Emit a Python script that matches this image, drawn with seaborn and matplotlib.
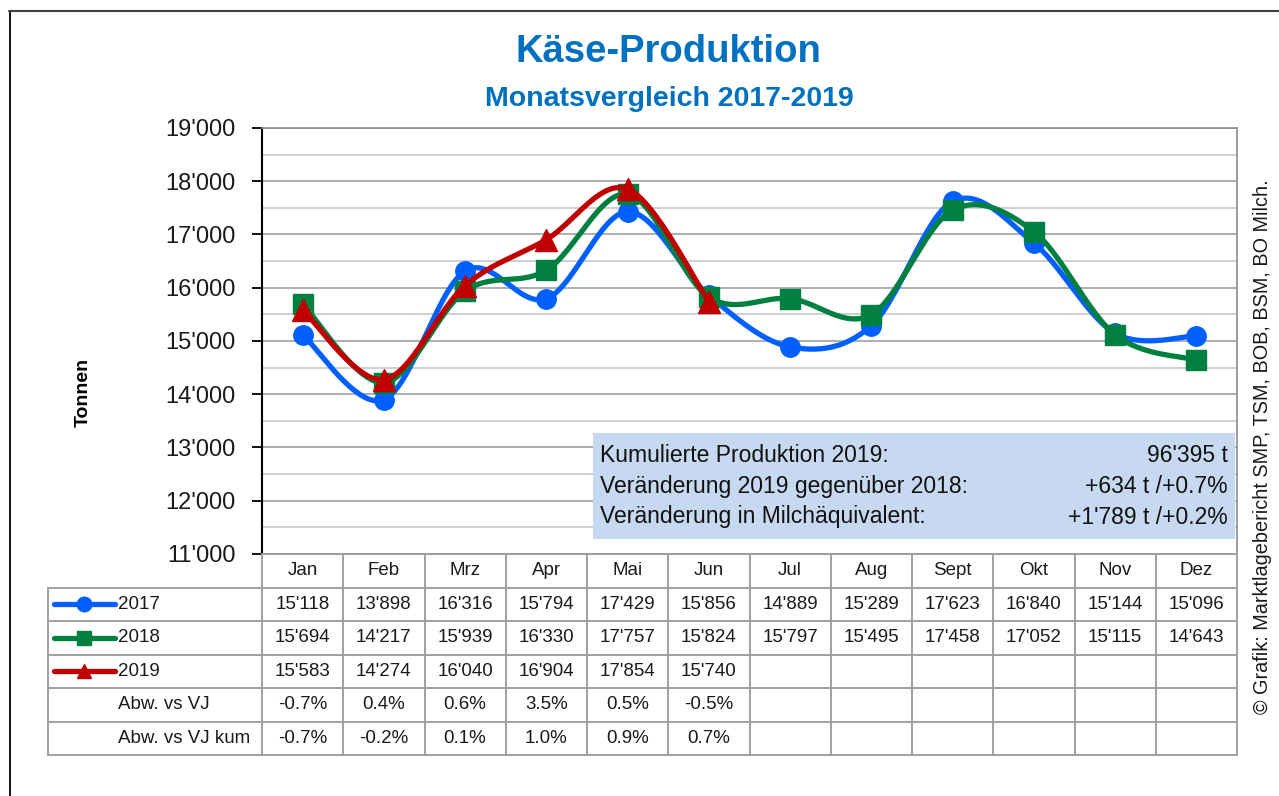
import numpy as np
import matplotlib
matplotlib.use("Agg")
import matplotlib.pyplot as plt
import seaborn as sns
from matplotlib.patches import Rectangle

# Daten
monate = ['Jan', 'Feb', 'Mrz', 'Apr', 'Mai', 'Jun', 'Jul', 'Aug', 'Sept', 'Okt', 'Nov', 'Dez']
prod_2017 = [15118, 13898, 16316, 15794, 17429, 15856, 14889, 15289, 17623, 16840, 15144, 15096]
prod_2018 = [15694, 14217, 15939, 16330, 17757, 15824, 15797, 15495, 17458, 17052, 15115, 14643]
prod_2019 = [15583, 14274, 16040, 16904, 17854, 15740]
abw_vj = [-0.7, 0.4, 0.6, 3.5, 0.5, -0.5]
abw_vj_kum = [-0.7, -0.2, 0.1, 1.0, 0.9, 0.7]
info_links = ['Kumulierte Produktion 2019:', 'Veränderung 2019 gegenüber 2018:',
              'Veränderung in Milchäquivalent:']
info_rechts = ["96'395 t", "+634 t /+0.7%", "+1'789 t /+0.2%"]

serien = [('2017', prod_2017, '#0060FF', 'o', 14),
          ('2018', prod_2018, '#008040', 's', 14),
          ('2019', prod_2019, '#C00000', '^', 16)]

sns.set_theme(style="white")
plt.rcParams['font.family'] = ['Liberation Sans', 'DejaVu Sans']

W, H = 1279, 796
fig = plt.figure(figsize=(W / 100, H / 100), dpi=100)


def fmt(v):
    return f"{v:,}".replace(",", "'")


def glatt(x, y, n=30):
    # Excel-artige Glättung (Catmull-Rom Bezier)
    x = np.asarray(x, float)
    y = np.asarray(y, float)
    px = np.concatenate([[x[0]], x, [x[-1]]])
    py = np.concatenate([[y[0]], y, [y[-1]]])
    t = np.linspace(0, 1, n)[:, None]
    xs, ys = [], []
    for i in range(1, len(x)):
        p0 = np.array([px[i], py[i]])
        p3 = np.array([px[i + 1], py[i + 1]])
        c1 = p0 + (p3 - np.array([px[i - 1], py[i - 1]])) / 6
        c2 = p3 - (np.array([px[i + 2], py[i + 2]]) - p0) / 6
        b = ((1 - t) ** 3) * p0 + 3 * ((1 - t) ** 2) * t * c1 + 3 * (1 - t) * t ** 2 * c2 + t ** 3 * p3
        xs.extend(b[:, 0])
        ys.extend(b[:, 1])
    return np.array(xs), np.array(ys)


# Diagrammbereich
ax = fig.add_axes([262 / W, 1 - 554 / H, (1237 - 262) / W, (554 - 128) / H])
ax.set_xlim(-0.5, 11.5)
ax.set_ylim(11000, 19000)
ax.set_yticks(range(11000, 19001, 1000))
ax.set_yticks(range(11500, 19000, 1000), minor=True)
ax.set_yticklabels([fmt(v) for v in range(11000, 19001, 1000)])
ax.set_xticks([])
ax.grid(which='major', axis='y', color='#a8a8a8', lw=1.3)
ax.grid(which='minor', axis='y', color='#cccccc', lw=1.3)
ax.tick_params(axis='y', which='major', direction='out', length=7, width=1.3,
               color='black', labelsize=17, pad=12, left=True, labelcolor='#1a1a1a')
ax.tick_params(axis='y', which='minor', length=0)
for s in ['top', 'right', 'bottom']:
    ax.spines[s].set_color('#8c8c8c')
    ax.spines[s].set_linewidth(1.2)
ax.spines['left'].set_color('black')
ax.spines['left'].set_linewidth(1.5)

for i, (name, werte, farbe, marker, ms) in enumerate(serien):
    x = np.arange(len(werte))
    xs, ys = glatt(x, werte)
    sns.lineplot(x=xs, y=ys, ax=ax, color=farbe, lw=3.8, sort=False, estimator=None, zorder=3 + i)
    ax.plot(x, werte, ls='none', marker=marker, ms=ms, color=farbe, mec=farbe, zorder=3 + i)

ax.set_ylabel('')

# Überlagerung für Tabelle, Texte, Rahmen
ov = fig.add_axes([0, 0, 1, 1], facecolor='none')
ov.set_xlim(0, W)
ov.set_ylim(H, 0)
ov.axis('off')

# Rahmen
ov.plot([9.5, 9.5], [11, H], color='black', lw=1.3)
ov.plot([9, W], [11, 11], color='#404040', lw=1.5)

# Titel
fig.text(668 / W, 1 - 52 / H, 'Käse-Produktion', ha='center', va='center',
         fontsize=27.5, fontweight='bold', color='#0070C0')
fig.text(669 / W, 1 - 99 / H, 'Monatsvergleich 2017-2019', ha='center', va='center',
         fontsize=20.5, fontweight='bold', color='#0070C0')
fig.text(83 / W, 1 - 392 / H, 'Tonnen', ha='center', va='center', rotation=90,
         fontsize=14, fontweight='bold', color='black')
fig.text(1263 / W, 1 - 447 / H, '© Grafik: Marktlagebericht SMP, TSM, BOB, BSM, BO Milch.',
         ha='center', va='center', rotation=90, fontsize=14.3, color='#1a1a1a')

# Infobox
ov.add_patch(Rectangle((593, 433), 642, 106, facecolor='#C6D9F0', edgecolor='none', zorder=2))
for k, (l, r) in enumerate(zip(info_links, info_rechts)):
    yy = 456 + k * 30.5
    ov.text(600, yy, l, ha='left', va='center', fontsize=16.5, color='#111111', zorder=3)
    ov.text(1228, yy, r, ha='right', va='center', fontsize=16.5, color='#111111', zorder=3)

# Datentabelle
x0, x1, xl = 262, 1237, 48
cw = (x1 - x0) / 12
zeilen = [554, 587.5, 621, 654.5, 688, 721.5, 755]
gc, gl = '#a0a0a0', 1.4
ov.plot([x0, x1], [zeilen[0], zeilen[0]], color=gc, lw=gl)
for yy in zeilen[1:]:
    ov.plot([xl, x1], [yy, yy], color=gc, lw=gl)
ov.plot([xl, xl], [zeilen[1], zeilen[-1]], color=gc, lw=gl)
for j in range(13):
    xx = x0 + j * cw
    ov.plot([xx, xx], [zeilen[0], zeilen[-1]], color=gc, lw=gl)

def zmitte(r):
    return (zeilen[r] + zeilen[r + 1]) / 2

for j, m in enumerate(monate):
    ov.text(x0 + (j + 0.5) * cw, zmitte(0), m, ha='center', va='center', fontsize=13.5, color='#1a1a1a')

for r, (name, werte, farbe, marker, ms) in enumerate(serien, start=1):
    ym = zmitte(r)
    ov.plot([54, 115], [ym, ym], color=farbe, lw=3.8, solid_capstyle='round')
    ov.plot([84], [ym], marker=marker, ms=10.5, color=farbe, ls='none')
    ov.text(118, ym, name, ha='left', va='center', fontsize=13.5, color='#1a1a1a')
    for j, v in enumerate(werte):
        ov.text(x0 + (j + 0.5) * cw, ym, fmt(v), ha='center', va='center', fontsize=13.5, color='#1a1a1a')

for r, (label, werte) in enumerate([('Abw. vs VJ', abw_vj), ('Abw. vs VJ kum', abw_vj_kum)], start=4):
    ym = zmitte(r)
    ov.text(118, ym, label, ha='left', va='center', fontsize=13.5, color='#1a1a1a')
    for j, v in enumerate(werte):
        ov.text(x0 + (j + 0.5) * cw, ym, f"{v:.1f}%", ha='center', va='center', fontsize=13.5, color='#1a1a1a')

fig.savefig('out.png', dpi=100)
